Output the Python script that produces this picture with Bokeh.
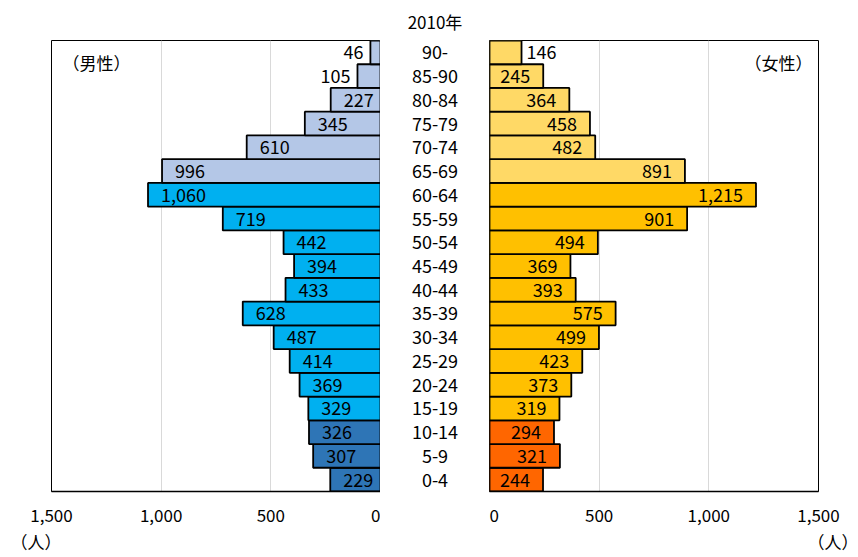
from bokeh.plotting import figure
from bokeh.models import ColumnDataSource, Range1d, FactorRange, FixedTicker, NumeralTickFormatter, Label, Title
from bokeh.layouts import row
from bokeh.embed import file_html
from bokeh.resources import INLINE
from bokeh.core.properties import value

# ---- data ----
ages = ["0-4", "5-9", "10-14", "15-19", "20-24", "25-29", "30-34", "35-39", "40-44",
        "45-49", "50-54", "55-59", "60-64", "65-69", "70-74", "75-79", "80-84", "85-90", "90-"]
male = [229, 307, 326, 329, 369, 414, 487, 628, 433, 394, 442, 719, 1060, 996, 610, 345, 227, 105, 46]
female = [244, 321, 294, 319, 373, 423, 499, 575, 393, 369, 494, 901, 1215, 891, 482, 458, 364, 245, 146]
ticks = [0, 500, 1000, 1500]
title_text = "2010年"
male_label = "（男性）"
female_label = "（女性）"
unit_label = "（人）"

FONT = "Noto Sans CJK JP"
H = 557
TOP, BOTTOM = 38, 66
FRAME_W = 329
FRAME_H = H - TOP - BOTTOM

male_cols = {"young": "#2E75B6", "work": "#00B0F0", "old": "#B4C7E7"}
female_cols = {"young": "#FF6600", "work": "#FFC000", "old": "#FFD966"}


def group(i):
    if i < 3:
        return "young"
    if i < 13:
        return "work"
    return "old"


def make_side(vals, cols, reverse, mbl, mbr):
    xr = Range1d(1500, 0) if reverse else Range1d(0, 1500)
    p = figure(width=mbl + FRAME_W + mbr, height=H, x_range=xr,
               y_range=FactorRange(factors=ages), output_backend="svg",
               toolbar_location=None, y_axis_location=None,
               min_border_left=mbl, min_border_right=mbr,
               min_border_top=TOP, min_border_bottom=BOTTOM)
    p.outline_line_color = "black"
    p.outline_line_width = 1
    p.background_fill_color = "white"
    p.border_fill_color = "white"
    p.ygrid.visible = False
    p.xgrid.grid_line_color = "#D9D9D9"
    p.xgrid.grid_line_width = 1
    p.xaxis.ticker = FixedTicker(ticks=ticks)
    p.xaxis.formatter = NumeralTickFormatter(format="0,0")
    p.xaxis.major_tick_line_color = None
    p.xaxis.minor_tick_line_color = None
    p.xaxis.axis_line_color = "black"
    p.xaxis.axis_line_width = 1.5
    p.xaxis.major_label_text_font = FONT
    p.xaxis.major_label_text_font_size = "17px"
    p.xaxis.major_label_text_color = "black"
    p.xaxis.major_label_standoff = 11

    src = ColumnDataSource(dict(y=ages, v=vals, c=[cols[group(i)] for i in range(len(ages))]))
    p.hbar(y="y", left=0, right="v", height=1, source=src, fill_color="c",
           line_color="black", line_width=1.8)

    inside = ColumnDataSource(dict(y=[a for a, v in zip(ages, vals) if v >= 150],
                                   v=[v for v in vals if v >= 150],
                                   t=[f"{v:,}" for v in vals if v >= 150]))
    outside = ColumnDataSource(dict(y=[a for a, v in zip(ages, vals) if v < 150],
                                    v=[v for v in vals if v < 150],
                                    t=[f"{v:,}" for v in vals if v < 150]))
    kw = dict(text_baseline="middle", text_font=value(FONT), text_font_size="18px", text_color="black")
    if reverse:
        p.text(x="v", y="y", text="t", source=inside, text_align="left", x_offset=13, **kw)
        p.text(x="v", y="y", text="t", source=outside, text_align="right", x_offset=-7, **kw)
    else:
        p.text(x="v", y="y", text="t", source=inside, text_align="right", x_offset=-13, **kw)
        p.text(x="v", y="y", text="t", source=outside, text_align="left", x_offset=5, **kw)
    return p


pm = make_side(male, male_cols, True, 51, 0)
pf = make_side(female, female_cols, False, 0, 40)

lab_kw = dict(x_units="screen", y_units="screen", text_align="center", text_baseline="middle",
              text_font=FONT, text_color="black")
pm.add_layout(Label(x=45, y=FRAME_H - 24, text=male_label, text_font_size="17px", **lab_kw))
pf.add_layout(Label(x=289, y=FRAME_H - 24, text=female_label, text_font_size="17px", **lab_kw))

pm.add_layout(Title(text=unit_label, align="left", offset=-41, standoff=4, text_font=FONT,
                    text_font_size="17px", text_font_style="normal", text_color="black"), "below")
pf.add_layout(Title(text=unit_label, align="right", offset=-40, standoff=4, text_font=FONT,
                    text_font_size="17px", text_font_style="normal", text_color="black"), "below")

pc = figure(width=109, height=H, x_range=Range1d(0, 1), y_range=FactorRange(factors=ages),
            output_backend="svg", toolbar_location=None, x_axis_location=None,
            y_axis_location=None, min_border_left=0, min_border_right=0,
            min_border_top=TOP, min_border_bottom=BOTTOM)
pc.outline_line_color = None
pc.grid.visible = False
pc.background_fill_color = "white"
pc.border_fill_color = "white"
pc.text(x=0.5, y=ages, text=ages, text_align="center", text_baseline="middle",
        text_font=value(FONT), text_font_size="18px", text_color="black")
pc.add_layout(Title(text=title_text, align="center", standoff=13, text_font=FONT, text_font_size="17px",
                    text_font_style="normal", text_color="black"), "above")

layout = row(pm, pc, pf)
open("out.html", "w").write(file_html(layout, INLINE))
